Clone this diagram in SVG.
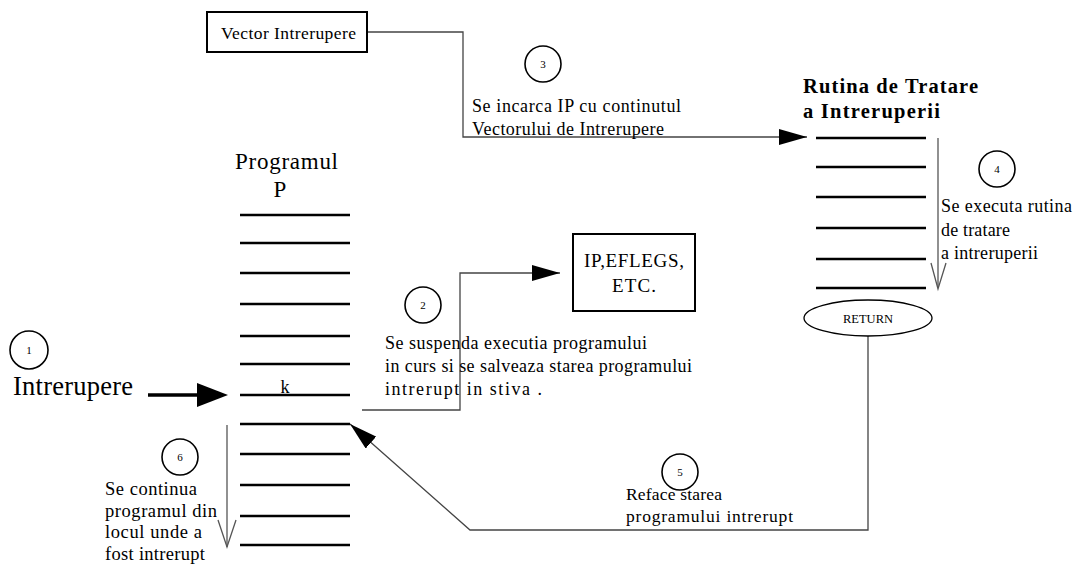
<svg xmlns="http://www.w3.org/2000/svg" width="1076" height="566" viewBox="0 0 1076 566">
  <style>
    .t { font-family: "Liberation Serif", "Times New Roman", serif; fill: #000; }
    .num { font-family: "Liberation Serif", "Times New Roman", serif; font-size: 11px; text-anchor: middle; fill: #000; }
    .slot { stroke: #000; stroke-width: 2.5; }
    .badge { fill: #fff; stroke: #000; stroke-width: 1.6; }
    .link { fill: none; stroke: #444; stroke-width: 1.3; }
    .flow { fill: none; stroke: #555; stroke-width: 1.3; }
    .box { fill: #fff; stroke: #000; stroke-width: 2; }
  </style>
  <defs>
    <marker id="head" viewBox="0 0 28 16" refX="28" refY="8" markerWidth="28" markerHeight="16" markerUnits="userSpaceOnUse" orient="auto">
      <path d="M0,0 L28,8 L0,16 z" fill="#000"/>
    </marker>
  </defs>

  <rect width="1076" height="566" fill="#fff"/>

  <!-- connectors -->
  <g id="connectors">
    <polyline class="link" points="367,32 463,32 463,137 807,137" marker-end="url(#head)"/>
    <polyline class="link" points="362,410 460,410 460,273 560,273" marker-end="url(#head)" stroke="#222"/>
    <polyline class="link" points="868,336 868,530 470,530 350,424" marker-end="url(#head)"/>
    <!-- interrupt request -->
    <line x1="148" y1="395" x2="202" y2="395" stroke="#000" stroke-width="3.5"/>
    <polygon points="197,383 228,395 197,407" fill="#000"/>
    <!-- execution direction arrows -->
    <polyline class="flow" points="938,138 938,288"/>
    <polyline class="flow" points="931,263 938,289 946,263"/>
    <polyline class="flow" points="227,425 227,547"/>
    <polyline class="flow" points="218,520 227,547 236,520"/>
  </g>

  <!-- interrupt vector -->
  <g id="vector">
    <rect class="box" x="207" y="12" width="160" height="40"/>
    <text class="t" x="221" y="39" font-size="17.5" textLength="135" lengthAdjust="spacing">Vector Intrerupere</text>
  </g>

  <!-- step 3 -->
  <g id="step3">
    <circle class="badge" cx="543" cy="64" r="18"/>
    <text class="num" x="543" y="68">3</text>
    <text class="t" x="472" y="112" font-size="18" textLength="209" lengthAdjust="spacing">Se incarca IP cu continutul</text>
    <text class="t" x="472" y="135" font-size="18" textLength="192" lengthAdjust="spacing">Vectorului de Intrerupere</text>
  </g>

  <!-- interrupt service routine -->
  <g id="routine">
    <text class="t" x="803" y="93" font-size="20.5" font-weight="bold" textLength="175" lengthAdjust="spacing">Rutina de Tratare</text>
    <text class="t" x="803" y="118" font-size="20.5" font-weight="bold" textLength="137" lengthAdjust="spacing">a Intreruperii</text>
    <line class="slot" x1="816" y1="138" x2="926" y2="138"/>
    <line class="slot" x1="816" y1="167" x2="926" y2="167"/>
    <line class="slot" x1="816" y1="197" x2="926" y2="197"/>
    <line class="slot" x1="816" y1="228" x2="926" y2="228"/>
    <line class="slot" x1="816" y1="259" x2="926" y2="259"/>
    <line class="slot" x1="816" y1="288" x2="926" y2="288"/>
  </g>

  <!-- step 4 -->
  <g id="step4">
    <circle class="badge" cx="997" cy="169" r="18"/>
    <text class="num" x="997" y="173">4</text>
    <text class="t" x="941" y="212" font-size="18" textLength="131" lengthAdjust="spacing">Se executa rutina</text>
    <text class="t" x="941" y="236" font-size="18" textLength="69" lengthAdjust="spacing">de tratare</text>
    <text class="t" x="941" y="259" font-size="18" textLength="97" lengthAdjust="spacing">a intreruperii</text>
  </g>

  <!-- return -->
  <g id="return">
    <ellipse cx="868" cy="318" rx="64" ry="18" fill="#fff" stroke="#000" stroke-width="1.3"/>
    <text class="t" x="868" y="323" font-size="12.5" text-anchor="middle">RETURN</text>
  </g>

  <!-- saved state -->
  <g id="stack">
    <rect class="box" x="573" y="234" width="122" height="77"/>
    <text class="t" x="634" y="267" font-size="19" text-anchor="middle" textLength="100" lengthAdjust="spacing">IP,EFLEGS,</text>
    <text class="t" x="634" y="292" font-size="19" text-anchor="middle" textLength="44" lengthAdjust="spacing">ETC.</text>
  </g>

  <!-- step 2 -->
  <g id="step2">
    <circle class="badge" cx="423" cy="305" r="18"/>
    <text class="num" x="423" y="309">2</text>
    <text class="t" x="385" y="349" font-size="18" textLength="262" lengthAdjust="spacing">Se suspenda executia programului</text>
    <text class="t" x="385" y="372" font-size="18" textLength="307" lengthAdjust="spacing">in curs si se salveaza starea programului</text>
    <text class="t" x="385" y="395" font-size="18" textLength="157" lengthAdjust="spacing">intrerupt in stiva .</text>
  </g>

  <!-- program P -->
  <g id="program">
    <text class="t" x="235" y="169" font-size="23" textLength="103" lengthAdjust="spacing">Programul</text>
    <text class="t" x="280" y="197" font-size="23" text-anchor="middle">P</text>
    <line class="slot" x1="240" y1="215" x2="350" y2="215"/>
    <line class="slot" x1="240" y1="243" x2="350" y2="243"/>
    <line class="slot" x1="240" y1="273" x2="350" y2="273"/>
    <line class="slot" x1="240" y1="304" x2="350" y2="304"/>
    <line class="slot" x1="240" y1="336" x2="350" y2="336"/>
    <line class="slot" x1="240" y1="364" x2="350" y2="364"/>
    <line class="slot" x1="240" y1="395" x2="350" y2="395"/>
    <line class="slot" x1="240" y1="424" x2="350" y2="424"/>
    <line class="slot" x1="240" y1="454" x2="350" y2="454"/>
    <line class="slot" x1="240" y1="485" x2="350" y2="485"/>
    <line class="slot" x1="240" y1="516" x2="350" y2="516"/>
    <line class="slot" x1="240" y1="545" x2="350" y2="545"/>
    <text class="t" x="285" y="393" font-size="18" text-anchor="middle">k</text>
  </g>

  <!-- step 1 -->
  <g id="step1">
    <circle class="badge" cx="29" cy="350" r="19"/>
    <text class="num" x="29" y="354">1</text>
    <text class="t" x="13" y="395" font-size="26.5" textLength="120" lengthAdjust="spacing">Intrerupere</text>
  </g>

  <!-- step 6 -->
  <g id="step6">
    <circle class="badge" cx="180" cy="457" r="18"/>
    <text class="num" x="180" y="461">6</text>
    <text class="t" x="105" y="495" font-size="18.5" textLength="92" lengthAdjust="spacing">Se continua</text>
    <text class="t" x="105" y="517" font-size="18.5" textLength="112" lengthAdjust="spacing">programul din</text>
    <text class="t" x="105" y="538" font-size="18.5" textLength="97" lengthAdjust="spacing">locul unde a</text>
    <text class="t" x="105" y="560" font-size="18.5" textLength="100" lengthAdjust="spacing">fost intrerupt</text>
  </g>

  <!-- step 5 -->
  <g id="step5">
    <circle class="badge" cx="680" cy="472" r="18" fill="none"/>
    <text class="num" x="680" y="476">5</text>
    <text class="t" x="626" y="500" font-size="17.5" textLength="96" lengthAdjust="spacing">Reface starea</text>
    <text class="t" x="626" y="522" font-size="17.5" textLength="167" lengthAdjust="spacing">programului intrerupt</text>
  </g>
</svg>
